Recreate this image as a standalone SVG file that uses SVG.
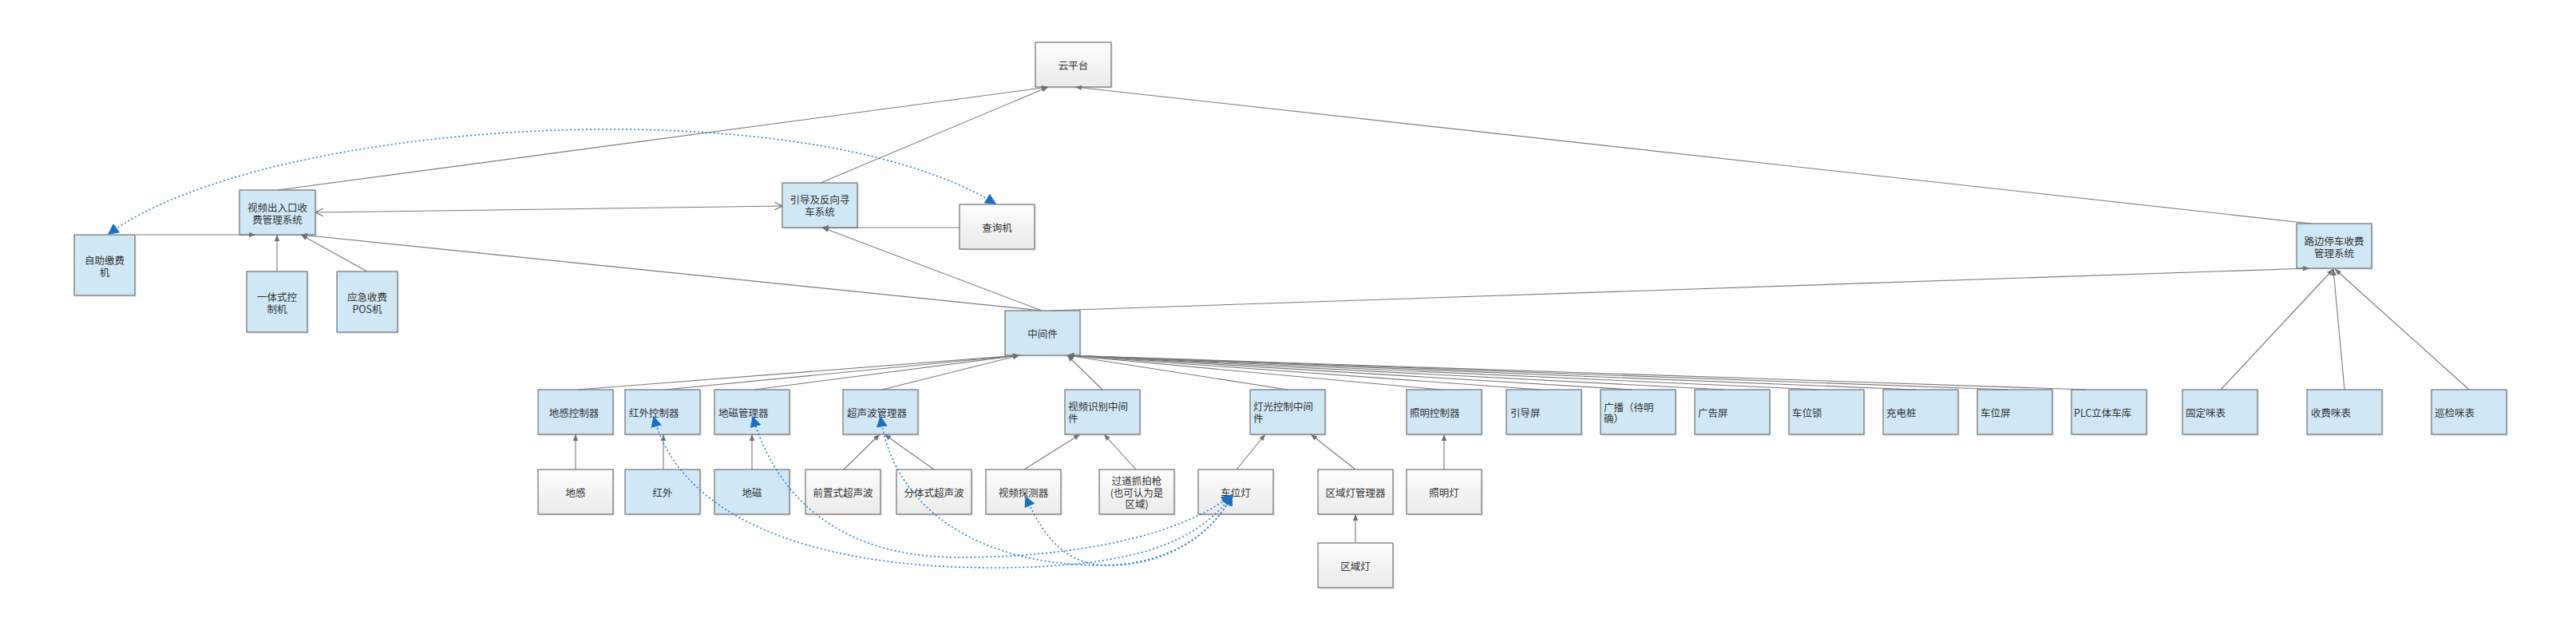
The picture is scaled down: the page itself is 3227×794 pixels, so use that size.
<svg xmlns="http://www.w3.org/2000/svg" width="3227" height="794" viewBox="0 0 3227 794">
<style>
.bx{stroke:#6e6e6e;stroke-width:1.2}
.bl{fill:#d0e8f5}
.gr{fill:url(#gg)}
.sh{fill:#000;opacity:0.08}
.t{font-family:"Noto Sans CJK SC","Liberation Sans",sans-serif;font-size:12.5px;fill:#333;dominant-baseline:central}
.c{text-anchor:middle}
.l{text-anchor:start}
.ln{stroke:#7a7a7a;stroke-width:1.1;fill:none}
.la{marker-end:url(#a)}
.dt{stroke:#2a7fcf;stroke-width:1.6;fill:none;stroke-dasharray:2 3;marker-start:url(#b);marker-end:url(#b)}
</style>
<defs>
<linearGradient id="gg" x1="0" y1="0" x2="0" y2="1"><stop offset="0" stop-color="#fdfdfd"/><stop offset="1" stop-color="#ebebeb"/></linearGradient>
<marker id="a" viewBox="0 0 10 10" refX="10" refY="5" markerWidth="9" markerHeight="8" markerUnits="userSpaceOnUse" orient="auto"><path d="M0,1 L10,5 L0,9 z" fill="#707070"/></marker>
<marker id="o" viewBox="0 0 10 10" refX="10" refY="5" markerWidth="10" markerHeight="10" markerUnits="userSpaceOnUse" orient="auto-start-reverse"><path d="M0,0 L10,5 L0,10" fill="none" stroke="#707070" stroke-width="1.2"/></marker>
<marker id="b" viewBox="0 0 10 10" refX="9" refY="5" markerWidth="14" markerHeight="14" markerUnits="userSpaceOnUse" orient="auto-start-reverse"><path d="M0,0 L10,5 L0,10 z" fill="#1f6fc0"/></marker>
</defs>
<rect width="3227" height="794" fill="#fff"/>
<g id="n-cloud"><rect class="sh" x="1299" y="55" width="95" height="56"/><rect class="bx gr" x="1297" y="53" width="95" height="56"/><text class="t c" x="1344.5" y="81">云平台</text></g>
<g id="n-video-gate"><rect class="sh" x="302" y="240" width="95" height="56"/><rect class="bx bl" x="300" y="238" width="95" height="56"/><text class="t c" x="347.5" y="259">视频出入口收</text><text class="t c" x="347.5" y="274">费管理系统</text></g>
<g id="n-selfpay"><rect class="sh" x="95" y="296" width="76" height="76"/><rect class="bx bl" x="93" y="294" width="76" height="76"/><text class="t c" x="131" y="325">自助缴费</text><text class="t c" x="131" y="340">机</text></g>
<g id="n-integrated"><rect class="sh" x="311" y="342" width="76" height="76"/><rect class="bx bl" x="309" y="340" width="76" height="76"/><text class="t c" x="347" y="371">一体式控</text><text class="t c" x="347" y="386">制机</text></g>
<g id="n-pos"><rect class="sh" x="424" y="342" width="76" height="76"/><rect class="bx bl" x="422" y="340" width="76" height="76"/><text class="t c" x="460" y="371">应急收费</text><text class="t c" x="460" y="386">POS机</text></g>
<g id="n-guide"><rect class="sh" x="982" y="231" width="94" height="56"/><rect class="bx bl" x="980" y="229" width="94" height="56"/><text class="t c" x="1027" y="249">引导及反向寻</text><text class="t c" x="1027" y="264">车系统</text></g>
<g id="n-query"><rect class="sh" x="1204" y="258" width="94" height="56"/><rect class="bx gr" x="1202" y="256" width="94" height="56"/><text class="t c" x="1249" y="284">查询机</text></g>
<g id="n-roadside"><rect class="sh" x="2879" y="282" width="94" height="56"/><rect class="bx bl" x="2877" y="280" width="94" height="56"/><text class="t c" x="2924" y="301">路边停车收费</text><text class="t c" x="2924" y="316">管理系统</text></g>
<g id="n-middleware"><rect class="sh" x="1261" y="391" width="94" height="56"/><rect class="bx bl" x="1259" y="389" width="94" height="56"/><text class="t c" x="1306" y="417">中间件</text></g>
<g id="n-ground-ctrl"><rect class="sh" x="676" y="490" width="94" height="56"/><rect class="bx bl" x="674" y="488" width="94" height="56"/><text class="t c" x="719" y="516">地感控制器</text></g>
<g id="n-ir-ctrl"><rect class="sh" x="785" y="490" width="94" height="56"/><rect class="bx bl" x="783" y="488" width="94" height="56"/><text class="t l" x="788" y="516">红外控制器</text></g>
<g id="n-mag-mgr"><rect class="sh" x="897" y="490" width="94" height="56"/><rect class="bx bl" x="895" y="488" width="94" height="56"/><text class="t l" x="900" y="516">地磁管理器</text></g>
<g id="n-us-mgr"><rect class="sh" x="1058" y="490" width="94" height="56"/><rect class="bx bl" x="1056" y="488" width="94" height="56"/><text class="t l" x="1061" y="516">超声波管理器</text></g>
<g id="n-vid-mw"><rect class="sh" x="1336" y="490" width="94" height="56"/><rect class="bx bl" x="1334" y="488" width="94" height="56"/><text class="t l" x="1338" y="508">视频识别中间</text><text class="t l" x="1338" y="523">件</text></g>
<g id="n-light-mw"><rect class="sh" x="1568" y="490" width="94" height="56"/><rect class="bx bl" x="1566" y="488" width="94" height="56"/><text class="t l" x="1570" y="508">灯光控制中间</text><text class="t l" x="1570" y="523">件</text></g>
<g id="n-illum-ctrl"><rect class="sh" x="1764" y="490" width="94" height="56"/><rect class="bx bl" x="1762" y="488" width="94" height="56"/><text class="t l" x="1766" y="516">照明控制器</text></g>
<g id="n-guide-screen"><rect class="sh" x="1889" y="490" width="94" height="56"/><rect class="bx bl" x="1887" y="488" width="94" height="56"/><text class="t l" x="1892" y="516">引导屏</text></g>
<g id="n-broadcast"><rect class="sh" x="2007" y="490" width="94" height="56"/><rect class="bx bl" x="2005" y="488" width="94" height="56"/><text class="t l" x="2009" y="509">广播（待明</text><text class="t l" x="2009" y="523">确）</text></g>
<g id="n-ad-screen"><rect class="sh" x="2125" y="490" width="94" height="56"/><rect class="bx bl" x="2123" y="488" width="94" height="56"/><text class="t l" x="2127" y="516">广告屏</text></g>
<g id="n-lock"><rect class="sh" x="2243" y="490" width="94" height="56"/><rect class="bx bl" x="2241" y="488" width="94" height="56"/><text class="t l" x="2245" y="516">车位锁</text></g>
<g id="n-charger"><rect class="sh" x="2361" y="490" width="94" height="56"/><rect class="bx bl" x="2359" y="488" width="94" height="56"/><text class="t l" x="2363" y="516">充电桩</text></g>
<g id="n-space-screen"><rect class="sh" x="2479" y="490" width="94" height="56"/><rect class="bx bl" x="2477" y="488" width="94" height="56"/><text class="t l" x="2481" y="516">车位屏</text></g>
<g id="n-plc"><rect class="sh" x="2597" y="490" width="94" height="56"/><rect class="bx bl" x="2595" y="488" width="94" height="56"/><text class="t l" x="2598" y="516">PLC立体车库</text></g>
<g id="n-fixed-meter"><rect class="sh" x="2736" y="490" width="94" height="56"/><rect class="bx bl" x="2734" y="488" width="94" height="56"/><text class="t l" x="2738" y="516">固定咪表</text></g>
<g id="n-fee-meter"><rect class="sh" x="2892" y="490" width="94" height="56"/><rect class="bx bl" x="2890" y="488" width="94" height="56"/><text class="t l" x="2895" y="516">收费咪表</text></g>
<g id="n-patrol-meter"><rect class="sh" x="3048" y="490" width="94" height="56"/><rect class="bx bl" x="3046" y="488" width="94" height="56"/><text class="t l" x="3050" y="516">巡检咪表</text></g>
<g id="n-ground"><rect class="sh" x="676" y="590" width="94" height="56"/><rect class="bx gr" x="674" y="588" width="94" height="56"/><text class="t c" x="721" y="616">地感</text></g>
<g id="n-ir"><rect class="sh" x="785" y="590" width="94" height="56"/><rect class="bx bl" x="783" y="588" width="94" height="56"/><text class="t c" x="830" y="616">红外</text></g>
<g id="n-mag"><rect class="sh" x="897" y="590" width="94" height="56"/><rect class="bx bl" x="895" y="588" width="94" height="56"/><text class="t c" x="942" y="616">地磁</text></g>
<g id="n-front-us"><rect class="sh" x="1011" y="590" width="94" height="56"/><rect class="bx gr" x="1009" y="588" width="94" height="56"/><text class="t c" x="1056" y="616">前置式超声波</text></g>
<g id="n-split-us"><rect class="sh" x="1125" y="590" width="94" height="56"/><rect class="bx gr" x="1123" y="588" width="94" height="56"/><text class="t c" x="1170" y="616">分体式超声波</text></g>
<g id="n-vid-det"><rect class="sh" x="1237" y="590" width="94" height="56"/><rect class="bx gr" x="1235" y="588" width="94" height="56"/><text class="t c" x="1282" y="616">视频探测器</text></g>
<g id="n-aisle-cam"><rect class="sh" x="1379" y="590" width="94" height="56"/><rect class="bx gr" x="1377" y="588" width="94" height="56"/><text class="t c" x="1424" y="601">过道抓拍枪</text><text class="t c" x="1424" y="616">(也可认为是</text><text class="t c" x="1424" y="630">区域)</text></g>
<g id="n-space-light"><rect class="sh" x="1503" y="590" width="94" height="56"/><rect class="bx gr" x="1501" y="588" width="94" height="56"/><text class="t c" x="1548" y="616">车位灯</text></g>
<g id="n-zone-mgr"><rect class="sh" x="1653" y="590" width="94" height="56"/><rect class="bx gr" x="1651" y="588" width="94" height="56"/><text class="t c" x="1698" y="616">区域灯管理器</text></g>
<g id="n-illum"><rect class="sh" x="1764" y="590" width="94" height="56"/><rect class="bx gr" x="1762" y="588" width="94" height="56"/><text class="t c" x="1809" y="616">照明灯</text></g>
<g id="n-zone-light"><rect class="sh" x="1653" y="682" width="94" height="56"/><rect class="bx gr" x="1651" y="680" width="94" height="56"/><text class="t c" x="1698" y="708">区域灯</text></g>
<g id="connectors">
<line class="ln la" x1="348" y1="238" x2="1313" y2="109"/>
<line class="ln la" x1="1028" y1="229" x2="1313" y2="109"/>
<line class="ln la" x1="2895" y1="280" x2="1347" y2="109"/>
<line class="ln la" x1="170" y1="294" x2="320" y2="294"/>
<line class="ln la" x1="347" y1="340" x2="347" y2="294"/>
<line class="ln la" x1="460" y1="340" x2="377" y2="294"/>
<line class="ln la" x1="1305" y1="389" x2="377" y2="294"/>
<line class="ln la" x1="1305" y1="389" x2="1030" y2="285"/>
<line class="ln la" x1="1202" y1="285" x2="1030" y2="285"/>
<line class="ln la" x1="1317" y1="389" x2="2893" y2="336"/>
<line class="ln" x1="395" y1="266" x2="980" y2="258" marker-start="url(#o)" marker-end="url(#o)"/>
<line class="ln la" x1="2782" y1="488" x2="2923" y2="337"/>
<line class="ln la" x1="2937" y1="488" x2="2923" y2="337"/>
<line class="ln la" x1="3093" y1="488" x2="2925" y2="337"/>
<line class="ln la" x1="723" y1="488" x2="1277" y2="445"/>
<line class="ln la" x1="833" y1="488" x2="1277" y2="445"/>
<line class="ln la" x1="945" y1="488" x2="1277" y2="445"/>
<line class="ln la" x1="1105" y1="488" x2="1277" y2="445"/>
<line class="ln la" x1="1381" y1="488" x2="1337" y2="445"/>
<line class="ln la" x1="1613" y1="488" x2="1337" y2="445"/>
<line class="ln la" x1="1805" y1="488" x2="1337" y2="445"/>
<line class="ln la" x1="1930" y1="488" x2="1337" y2="445"/>
<line class="ln la" x1="2045" y1="488" x2="1337" y2="445"/>
<line class="ln la" x1="2160" y1="488" x2="1337" y2="445"/>
<line class="ln la" x1="2280" y1="488" x2="1337" y2="445"/>
<line class="ln la" x1="2400" y1="488" x2="1337" y2="445"/>
<line class="ln la" x1="2515" y1="488" x2="1337" y2="445"/>
<line class="ln la" x1="2613" y1="488" x2="1337" y2="445"/>
<line class="ln la" x1="721" y1="588" x2="721" y2="544"/>
<line class="ln la" x1="831" y1="588" x2="831" y2="544"/>
<line class="ln la" x1="942" y1="588" x2="942" y2="544"/>
<line class="ln la" x1="1057" y1="588" x2="1102" y2="544"/>
<line class="ln la" x1="1170" y1="588" x2="1108" y2="544"/>
<line class="ln la" x1="1283" y1="588" x2="1353" y2="544"/>
<line class="ln la" x1="1423" y1="588" x2="1383" y2="544"/>
<line class="ln la" x1="1549" y1="588" x2="1585" y2="544"/>
<line class="ln la" x1="1698" y1="588" x2="1642" y2="544"/>
<line class="ln la" x1="1809" y1="588" x2="1809" y2="544"/>
<line class="ln la" x1="1698" y1="680" x2="1698" y2="644"/>
<path class="dt" d="M1247,255 C1000,105 330,150 136,293"/>
<path class="dt" d="M1543,620 C1500,680 1420,710 1250,711 C1000,712 850,640 819,522"/>
<path class="dt" d="M1543,620 C1480,670 1350,698 1200,698 C1060,698 975,630 943,522"/>
<path class="dt" d="M1543,620 C1520,670 1460,708 1380,708 C1230,708 1120,640 1103,522"/>
<path class="dt" d="M1543,620 C1520,670 1460,708 1390,708 C1340,708 1310,680 1285,622"/>
</g>
</svg>
